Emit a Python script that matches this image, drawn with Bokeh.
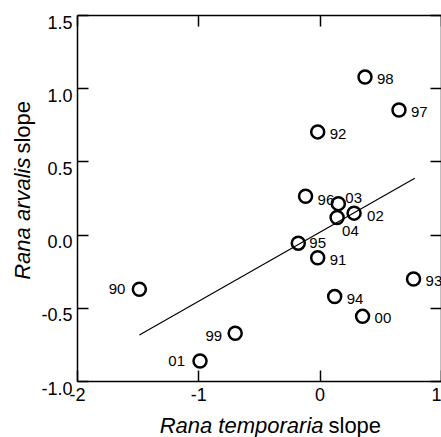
import math
from bokeh.plotting import figure
from bokeh.models import LinearAxis, FixedTicker, Label, LabelSet, ColumnDataSource, Range1d
from bokeh.embed import file_html
from bokeh.resources import INLINE
from bokeh.core.properties import value

# ---- data ----
years      = ["90", "91", "92", "93", "94", "95", "96", "97", "98", "99", "00", "01", "02", "03", "04"]
temporaria = [-1.49, -0.02, -0.02, 0.77, 0.12, -0.18, -0.12, 0.65, 0.37, -0.70, 0.35, -0.99, 0.28, 0.15, 0.14]
arvalis    = [-0.37, -0.155, 0.705, -0.30, -0.42, -0.055, 0.265, 0.855, 1.08, -0.67, -0.555, -0.86, 0.15, 0.215, 0.12]

fit_x = [-1.49, 0.78]
fit_y = [-0.683, 0.389]

x_ticks = [-2, -1, 0, 1]
x_tick_labels = ["-2", "-1", "0", "1"]
y_ticks = [-1.0, -0.5, 0.0, 0.5, 1.0, 1.5]
y_tick_labels = ["-1.0", "-0.5", "0.0", "0.5", "1.0", "1.5"]

x_title = ("Rana temporaria", "slope")
y_title = ("Rana arvalis", "slope")

# ---- layout (axis box inside a full-canvas frame) ----
X_MIN, X_MAX = -2, 1
Y_MIN, Y_MAX = -1.0, 1.5
VIEW_X = (-2.6346, 1.0005)
VIEW_Y = (-1.3825, 1.6025)

place = {
    "90": (-14, 0, "right"), "01": (-15, 0, "right"), "99": (-13, 3, "right"),
    "96": (12, 4, "left"), "03": (7, -6, "left"), "04": (5, 13, "left"),
    "02": (13, 3, "left"), "95": (11, 0, "left"),
}
default_place = (12, 2, "left")

FONT = "Liberation Sans"

p = figure(width=441, height=437, x_range=Range1d(*VIEW_X), y_range=Range1d(*VIEW_Y),
           output_backend="svg", toolbar_location=None,
           min_border_left=0, min_border_right=0, min_border_top=0, min_border_bottom=0)
p.xgrid.visible = False
p.ygrid.visible = False
p.outline_line_color = None
p.background_fill_color = "white"
p.border_fill_color = "white"

def style_axis(ax, ticks, loc, bounds, labels=None):
    ax.ticker = FixedTicker(ticks=ticks)
    ax.fixed_location = loc
    ax.bounds = bounds
    ax.axis_line_width = 1.5
    ax.axis_line_color = "black"
    ax.major_tick_line_width = 1.5
    ax.major_tick_line_color = "black"
    ax.major_tick_in = 11
    ax.major_tick_out = 0
    ax.minor_tick_line_color = None
    ax.major_label_text_font = FONT
    ax.major_label_text_color = "black"
    if labels is None:
        ax.major_label_overrides = {t: "" for t in ticks}
        ax.major_label_text_font_size = "1px"
        ax.major_label_standoff = 0
    else:
        ax.major_label_overrides = {t: l for t, l in zip(ticks, labels)}
        ax.major_label_text_font_size = "18px"
        ax.major_label_standoff = 6

style_axis(p.xaxis[0], x_ticks, Y_MIN, (X_MIN, X_MAX), x_tick_labels)
style_axis(p.yaxis[0], y_ticks, X_MIN, (Y_MIN, Y_MAX), None)

top = LinearAxis()
style_axis(top, x_ticks, Y_MAX, (X_MIN, X_MAX), None)
p.add_layout(top, "above")
right = LinearAxis()
style_axis(right, y_ticks, X_MAX, (Y_MIN, Y_MAX), None)
p.add_layout(right, "right")

# y tick labels (hanging below their ticks, as in the reference)
ysrc = ColumnDataSource(dict(x=[X_MIN] * len(y_ticks), y=y_ticks, t=y_tick_labels))
p.add_layout(LabelSet(x="x", y="y", text="t", source=ysrc, x_offset=-5, y_offset=0,
                      text_align="right", text_baseline="top",
                      text_font=value(FONT), text_font_size="18px", text_color="black"))

# regression line
p.line(fit_x, fit_y, line_color="black", line_width=1.2)

# points
p.scatter(temporaria, arvalis, size=13, marker="circle", fill_color=None,
          line_color="black", line_width=2.5)

# point labels
for align in ("left", "right"):
    xs, ys, ts, dxs, dys = [], [], [], [], []
    for yr, xv, yv in zip(years, temporaria, arvalis):
        dx, dy, al = place.get(yr, default_place)
        if al != align:
            continue
        xs.append(xv); ys.append(yv); ts.append(yr); dxs.append(dx); dys.append(dy)
    src = ColumnDataSource(dict(x=xs, y=ys, t=ts, dx=dxs, dy=dys))
    p.text(x="x", y="y", text="t", x_offset="dx", y_offset="dy", source=src,
           text_align=align, text_baseline="middle", text_font=value(FONT),
           text_font_size="15px", text_color="black")

# axis titles (mixed italic / normal)
TS = "22px"
p.add_layout(Label(x=0.028, y=-1.300, text=x_title[0], text_align="right",
                   text_baseline="alphabetic", text_font=FONT, text_font_size=TS,
                   text_font_style="italic", text_color="black"))
p.add_layout(Label(x=0.069, y=-1.300, text=x_title[1], text_align="left",
                   text_baseline="alphabetic", text_font=FONT, text_font_size=TS,
                   text_color="black"))
p.add_layout(Label(x=-2.45, y=0.530, text=y_title[0], text_align="right", angle=math.pi / 2,
                   text_baseline="alphabetic", text_font=FONT, text_font_size=TS,
                   text_font_style="italic", text_color="black"))
p.add_layout(Label(x=-2.45, y=0.557, text=y_title[1], text_align="left", angle=math.pi / 2,
                   text_baseline="alphabetic", text_font=FONT, text_font_size=TS,
                   text_color="black"))

open("out.html", "w").write(file_html(p, INLINE))
